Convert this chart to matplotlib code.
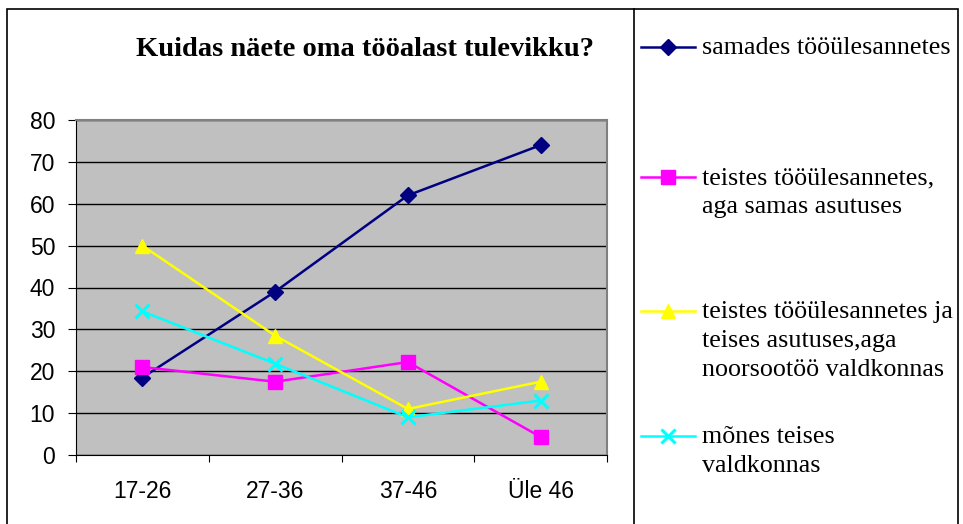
import matplotlib.pyplot as plt
from matplotlib.lines import Line2D
from matplotlib.patches import Rectangle
import numpy as np

categories = ['17-26', '27-36', '37-46', 'Üle 46']
samades = [18.5, 39, 62, 74]
teistes_samas = [21, 17.5, 22.2, 4.3]
teistes_noorsoo = [50, 28.5, 11, 17.5]
mones_teises = [34.3, 21.8, 9, 13]

labels = ['samades tööülesannetes',
          'teistes tööülesannetes,\naga samas asutuses',
          'teistes tööülesannetes ja\nteises asutuses,aga\nnoorsootöö valdkonnas',
          'mõnes teises\nvaldkonnas']
colors = ['#000080', '#FF00FF', '#FFFF00', '#00FFFF']
markers = ['D', 's', '^', 'x']
msizes = [8, 10, 10, 10]
series = [samades, teistes_samas, teistes_noorsoo, mones_teises]

W, H = 963, 524
fig = plt.figure(figsize=(W / 100, H / 100), dpi=100)

def fx(px):
    return px / W

def fy(py):
    return 1 - py / H

# outer frame and legend divider
fig.add_artist(Rectangle((fx(7), fy(530)), fx(958) - fx(7), fy(9) - fy(530),
                         transform=fig.transFigure, fill=False, edgecolor='black', lw=1.2))
fig.add_artist(Line2D([fx(634), fx(634)], [fy(9), 0], transform=fig.transFigure,
                      color='black', lw=1.2))

ax = fig.add_axes([fx(76), fy(455), fx(607) - fx(76), fy(120) - fy(455)])
ax.set_facecolor('#C0C0C0')
x = np.arange(len(categories))
for s, c, m, ms in zip(series, colors, markers, msizes):
    ax.plot(x, s, color=c, marker=m, markersize=ms, lw=1.8, mew=2.2 if m == 'x' else 1,
            markeredgecolor=c, clip_on=False, zorder=3)

ax.set_xlim(-0.5, 3.5)
ax.set_ylim(0, 80)
ax.set_yticks(range(0, 81, 10))
ax.yaxis.grid(True, color='black', lw=1)
ax.set_axisbelow(True)
ax.set_xticks(np.arange(-0.5, 4, 1))
ax.set_xticklabels([])
ax.set_xticks(x, minor=True)
ax.set_xticklabels(categories, minor=True)
ax.tick_params(axis='x', which='minor', length=0, pad=18)
ax.tick_params(axis='x', which='major', length=5, color='black')
ax.tick_params(axis='y', length=6, color='black', pad=9)
for lab in ax.get_xticklabels(minor=True) + ax.get_yticklabels():
    lab.set_fontfamily('Liberation Sans')
    lab.set_fontsize(16.5)
for side in ['top', 'right']:
    ax.spines[side].set_color('#808080')
    ax.spines[side].set_linewidth(1.5)
ax.spines['left'].set_color('black')
ax.spines['bottom'].set_color('black')

fig.text(fx(365), fy(50), 'Kuidas näete oma tööalast tulevikku?', ha='center', va='center',
         fontfamily='Liberation Serif', fontweight='bold', fontsize=20.5)

# legend
leg_y = [47, 177, 311, 436]
for yy, lab, c, m, ms in zip(leg_y, labels, colors, markers, msizes):
    fig.add_artist(Line2D([fx(641), fx(695)], [fy(yy), fy(yy)], transform=fig.transFigure,
                          color=c, lw=1.8))
    fig.add_artist(Line2D([fx(668)], [fy(yy)], transform=fig.transFigure, color=c,
                          marker=m, markersize=ms, mew=2.2 if m == 'x' else 1,
                          markeredgecolor=c))
    fig.text(fx(702), fy(yy - 10), lab, ha='left', va='top', fontfamily='Liberation Serif',
             fontsize=18.7, linespacing=1.4)

fig.savefig('out.png', dpi=100)
